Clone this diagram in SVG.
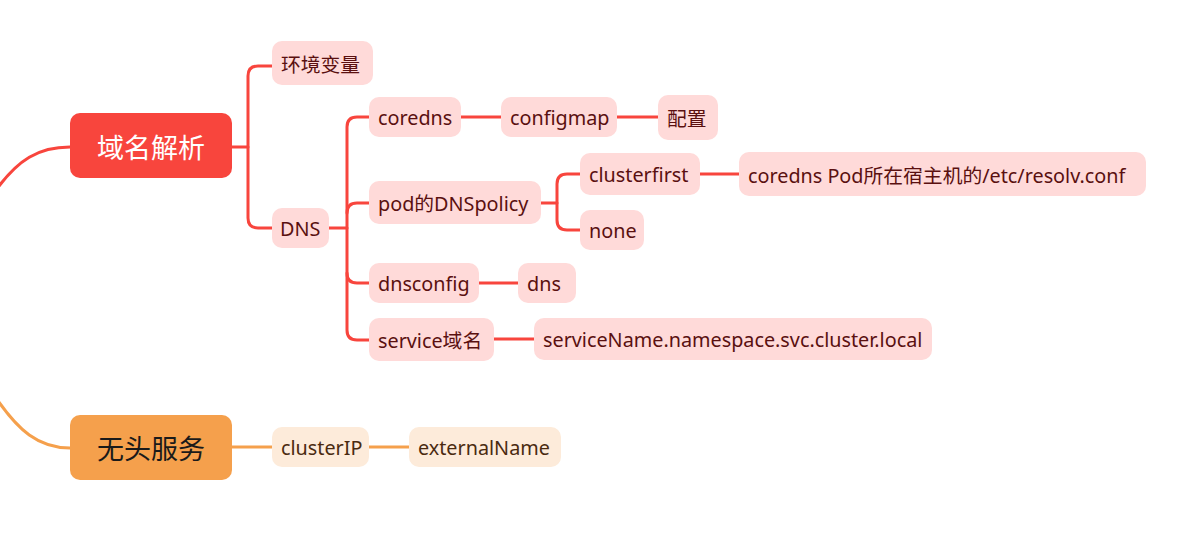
<svg xmlns="http://www.w3.org/2000/svg" width="1198" height="541" viewBox="0 0 1198 541">
<style>
.r{fill:none;stroke:#F8453D;stroke-width:3;stroke-linecap:round}
.o{fill:none;stroke:#F5A04C;stroke-width:3;stroke-linecap:round}
.pk{fill:#FFDAD9}
.po{fill:#FDEBDA}
.t{font-family:"Noto Sans","Noto Sans CJK SC",sans-serif;font-size:19.8px;fill:#5A1010;dominant-baseline:central}
.to{font-family:"Noto Sans","Noto Sans CJK SC",sans-serif;font-size:19.8px;fill:#4A2A10;dominant-baseline:central}
.big{font-family:"Noto Sans CJK SC","Noto Sans",sans-serif;font-size:27px;text-anchor:middle;dominant-baseline:central}
</style>
<rect width="1198" height="541" fill="#ffffff"/>
<g id="connectors">
<path class="r" d="M-4 190 C18 160 38 147 70 147"/>
<path class="o" d="M-4 398 C18 430 38 448 70 448"/>
<path class="r" d="M232 147 H248"/>
<path class="r" d="M272 66 H258 Q248 66 248 76 V218 Q248 228 258 228 H272"/>
<path class="r" d="M329 228 H347"/>
<path class="r" d="M369 117 H357 Q347 117 347 127 V330 Q347 340 357 340 H369"/>
<path class="r" d="M347 213 Q347 203 357 203 H369"/>
<path class="r" d="M347 273 Q347 283 357 283 H369"/>
<path class="r" d="M461 117 H501"/>
<path class="r" d="M617 117 H658"/>
<path class="r" d="M541 203 H557"/>
<path class="r" d="M580 174 H567 Q557 174 557 184 V220 Q557 230 567 230 H580"/>
<path class="r" d="M700 174 H739"/>
<path class="r" d="M479 283 H518"/>
<path class="r" d="M494 339 H534"/>
<path class="o" d="M232 447 H272"/>
<path class="o" d="M369 447 H409"/>
</g>
<g id="n-domain"><rect x="70" y="113" width="162" height="65" rx="10" fill="#F8453D"/><text class="big" x="151" y="146" fill="#ffffff">域名解析</text></g>
<g id="n-headless"><rect x="70" y="415" width="162" height="65" rx="10" fill="#F5A04C"/><text class="big" x="151" y="447" fill="#1A1A1A">无头服务</text></g>
<g id="n-env"><rect class="pk" x="272" y="41" width="101" height="44" rx="10"/><text class="t" x="281" y="64">环境变量</text></g>
<g id="n-dns"><rect class="pk" x="272" y="208" width="57" height="40" rx="10"/><text class="t" x="280" y="228">DNS</text></g>
<g id="n-coredns"><rect class="pk" x="369" y="97" width="92" height="40" rx="10"/><text class="t" x="378" y="117">coredns</text></g>
<g id="n-configmap"><rect class="pk" x="501" y="97" width="116" height="40" rx="10"/><text class="t" x="510" y="117">configmap</text></g>
<g id="n-config"><rect class="pk" x="658" y="95" width="60" height="45" rx="10"/><text class="t" x="667" y="118">配置</text></g>
<g id="n-podpolicy"><rect class="pk" x="369" y="181" width="172" height="43" rx="10"/><text class="t" x="378" y="203">pod的DNSpolicy</text></g>
<g id="n-clusterfirst"><rect class="pk" x="580" y="153" width="120" height="42" rx="10"/><text class="t" x="589" y="174">clusterfirst</text></g>
<g id="n-none"><rect class="pk" x="580" y="210" width="64" height="40" rx="10"/><text class="t" x="589" y="230">none</text></g>
<g id="n-resolv"><rect class="pk" x="739" y="152" width="407" height="44" rx="10"/><text class="t" x="748" y="175">coredns Pod所在宿主机的/etc/resolv.conf</text></g>
<g id="n-dnsconfig"><rect class="pk" x="369" y="263" width="110" height="40" rx="10"/><text class="t" x="378" y="283">dnsconfig</text></g>
<g id="n-dns2"><rect class="pk" x="518" y="263" width="58" height="40" rx="10"/><text class="t" x="527" y="283">dns</text></g>
<g id="n-svcdomain"><rect class="pk" x="369" y="318" width="125" height="43" rx="10"/><text class="t" x="378" y="340">service域名</text></g>
<g id="n-svcname"><rect class="pk" x="534" y="318" width="398" height="42" rx="10"/><text class="t" x="543" y="339">serviceName.namespace.svc.cluster.local</text></g>
<g id="n-clusterip"><rect class="po" x="272" y="427" width="97" height="40" rx="10"/><text class="to" x="281" y="447">clusterIP</text></g>
<g id="n-externalname"><rect class="po" x="409" y="427" width="152" height="40" rx="10"/><text class="to" x="418" y="447">externalName</text></g>
</svg>
